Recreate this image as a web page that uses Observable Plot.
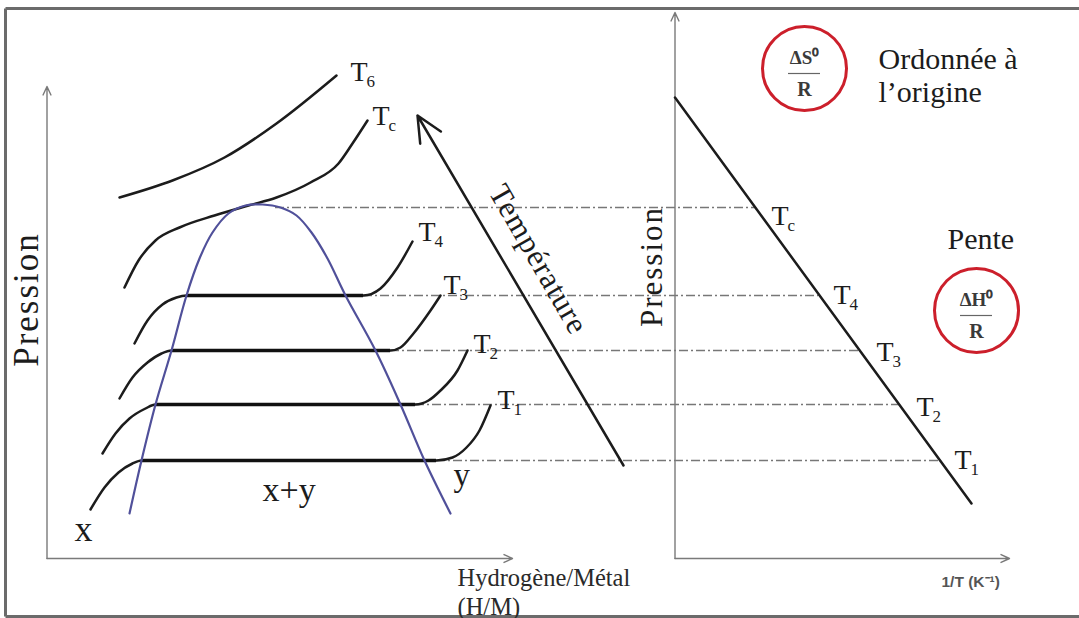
<!DOCTYPE html>
<html><head><meta charset="utf-8">
<script src="https://cdn.jsdelivr.net/npm/d3@7"></script>
<script src="https://cdn.jsdelivr.net/npm/@observablehq/plot@0.6"></script>
<style>html,body{margin:0;padding:0;background:#fff;} #chart{width:1079px;height:618px;overflow:hidden}</style>
</head><body><div id="chart"></div>
<script>
// ---- Schematic values (drawing units, y grows downward) ----
// PCT isotherms (left panel): [H/M position, pressure position]
const isoT1 = [[90,509],[104,487],[118,472],[132,463],[141,460],[436,460],[452,457],[466,447],[479,430],[490,405]];
const isoT2 = [[102,453],[115,433],[129,418],[145,408],[155,404],[415,404],[428,400],[440,390],[457,370],[467,350]];
const isoT3 = [[119,398],[132,377],[147,362],[161,353],[171,350],[390,350],[400,347],[413,333],[430,310],[440,295]];
const isoT4 = [[134,343],[147,320],[162,304],[176,297],[186,295],[363,295],[380,288],[397,267],[412,241]];
const isoTc = [[124,287],[138,260],[155,240],[179,227],[214,215],[248,205],[276,197],[310,182],[338,163],[352,143],[367,120]];
const isoT6 = [[119,197],[172,180],[224,157],[276,123],[336,75]];
// two-phase dome (x + y coexistence)
const dome = [[129,513],[141,460],[155,404],[171,350],[186,295],[199,258],[212,232],[228,213],[245,205],[262,204],[280,207],[296,215],[311,232],[327,258],[345,295],[375,350],[400,404],[424,460],[450,513]];
// plateaus: pressure level, start (dome) and end of plateau
const plateauY  = [460, 404, 350, 295];
const plateauX1 = [141, 155, 171, 186];
const plateauX2 = [436, 415, 390, 363];
// dash-dot projections to the van't Hoff line
const dashY  = [207, 295, 350, 404, 460];
const dashX1 = [275, 363, 390, 415, 436];
const dashX2 = [755, 818, 860, 900, 939];
// van't Hoff line (right panel)
const vantHoff = [[674.5,97],[971,503]];
// axes and frame
const axisArrows = [[46.5,558,46.5,86],[46.5,558,512,558],[674.5,558,674.5,12],[674.5,558,1009,558]];
const tempArrow = [[623,465,417,115]];
const frameLines = [[5,8,1079,8],[5,8,5,616],[5,616,1079,616]];
// temperature labels
const tSubs = ["6","c","4","3","2","1"];
const tLeftX = [350,372,418,443,473,497];
const tLeftY = [80,124,240,293,352,408];
const tRightSubs = ["c","4","3","2","1"];
const tRightX = [771,833,876,916,954];
const tRightY = [224,303,360,415,468];
// red circles with thermodynamic ratios
const circleX = [804, 976];
const circleY = [68, 310];
const circleNum = ["ΔS⁰", "ΔH⁰"];
const circleDen = ["R", "R"];

// ---- build tables ----
const curves = [];
[["T1",isoT1],["T2",isoT2],["T3",isoT3],["T4",isoT4],["Tc",isoTc],["T6",isoT6]].forEach(([k,p]) => p.forEach(([x,y]) => curves.push({k,x,y})));
const domeData = dome.map(([x,y]) => ({x,y}));
const plateaus = plateauY.map((y,i) => ({y, x1: plateauX1[i], x2: plateauX2[i]}));
const dashes = dashY.map((y,i) => ({y, x1: dashX1[i], x2: dashX2[i]}));
const vh = vantHoff.map(([x,y]) => ({x,y}));
const seg = a => a.map(([x1,y1,x2,y2]) => ({x1,y1,x2,y2}));
const tL = tSubs.map((s,i) => ({s, x: tLeftX[i], y: tLeftY[i]}));
const tR = tRightSubs.map((s,i) => ({s, x: tRightX[i], y: tRightY[i]}));
const tAll = tL.concat(tR);
const circles = circleX.map((x,i) => ({x, y: circleY[i], num: circleNum[i], den: circleDen[i]}));

const SERIF = "Liberation Serif, Times New Roman, serif";
const INK = "#1c1c1c";

const chart = Plot.plot({
  width: 1079, height: 618, margin: 0,
  x: {domain: [0, 1079], range: [0, 1079], axis: null},
  y: {domain: [0, 618], range: [0, 618], axis: null},
  style: {background: "#fff", overflow: "visible"},
  marks: [
    Plot.link(seg(frameLines), {x1:"x1", y1:"y1", x2:"x2", y2:"y2", stroke:"#6b6b6b", strokeWidth:3}),
    Plot.ruleY(dashes, {y:"y", x1:"x1", x2:"x2", stroke:"#777", strokeWidth:1.5, strokeDasharray:"9,3,2,3"}),
    Plot.arrow(seg(axisArrows), {x1:"x1", y1:"y1", x2:"x2", y2:"y2", stroke:"#7a7a7a", strokeWidth:1.4, headLength:10, headAngle:50}),
    Plot.line(curves, {x:"x", y:"y", z:"k", curve:"monotone-x", stroke:INK, strokeWidth:2.5}),
    Plot.ruleY(plateaus, {y:"y", x1:"x1", x2:"x2", stroke:"#111", strokeWidth:3.6}),
    Plot.line(domeData, {x:"x", y:"y", curve:"catmull-rom", stroke:"#50509a", strokeWidth:2.2}),
    Plot.line(vh, {x:"x", y:"y", stroke:INK, strokeWidth:2.5}),
    Plot.arrow(seg(tempArrow), {x1:"x1", y1:"y1", x2:"x2", y2:"y2", stroke:INK, strokeWidth:2.5, headLength:17, headAngle:50}),
    Plot.dot(circles, {x:"x", y:"y", r:42, stroke:"#cc1f2b", strokeWidth:3, fill:"none"}),
    Plot.text(circles, {x:"x", y: d => d.y - 5, text:"num", fontFamily:SERIF, fontSize:19, fontWeight:"bold", fill:"#3a3a3a", textAnchor:"middle", lineAnchor:"bottom"}),
    Plot.ruleY(circles, {y: d => d.y + 5, x1: d => d.x - 16, x2: d => d.x + 16, stroke:"#666", strokeWidth:1.2}),
    Plot.text(circles, {x:"x", y: d => d.y + 27, text:"den", fontFamily:SERIF, fontSize:20, fontWeight:"bold", fill:"#3a3a3a", textAnchor:"middle", lineAnchor:"bottom"}),
    // T labels
    Plot.text(tAll, {x:"x", y:"y", text: () => "T", fontFamily:SERIF, fontSize:28, fill:INK, textAnchor:"start", lineAnchor:"bottom"}),
    Plot.text(tAll, {x: d => d.x + 16, y: d => d.y + 6, text:"s", fontFamily:SERIF, fontSize:17, fill:INK, textAnchor:"start", lineAnchor:"bottom"}),
    // axis titles and annotations
    Plot.text(["Pression"], {x: () => 26, y: () => 299, text: d => d, rotate:-90, fontFamily:SERIF, fontSize:35, fill:INK, textAnchor:"middle", lineAnchor:"middle"}),
    Plot.text(["Pression"], {x: () => 651.5, y: () => 266, text: d => d, rotate:-90, fontFamily:SERIF, fontSize:31, fill:INK, textAnchor:"middle", lineAnchor:"middle"}),
    Plot.text(["Température"], {x: () => 538, y: () => 259, text: d => d, rotate:60, fontFamily:SERIF, fontSize:31, fill:INK, textAnchor:"middle", lineAnchor:"middle"}),
    Plot.text(["Hydrogène/Métal"], {x: () => 457, y: () => 585, text: d => d, fontFamily:SERIF, fontSize:24.5, fill:"#2a2a2a", textAnchor:"start", lineAnchor:"bottom"}),
    Plot.text(["(H/M)"], {x: () => 457, y: () => 614, text: d => d, fontFamily:SERIF, fontSize:24.5, fill:"#2a2a2a", textAnchor:"start", lineAnchor:"bottom"}),
    Plot.text(["1/T (K⁻¹)"], {x: () => 941, y: () => 586, text: d => d, fontFamily:"Liberation Sans, Arial, sans-serif", fontSize:15.5, fontWeight:"bold", fill:"#555", textAnchor:"start", lineAnchor:"bottom"}),
    Plot.text(["x"], {x: () => 74, y: () => 540, text: d => d, fontFamily:SERIF, fontSize:36, fill:INK, textAnchor:"start", lineAnchor:"bottom"}),
    Plot.text(["x+y"], {x: () => 262, y: () => 500, text: d => d, fontFamily:SERIF, fontSize:34, fill:INK, textAnchor:"start", lineAnchor:"bottom"}),
    Plot.text(["y"], {x: () => 453, y: () => 485, text: d => d, fontFamily:SERIF, fontSize:33, fill:INK, textAnchor:"start", lineAnchor:"bottom"}),
    Plot.text(["Ordonnée à"], {x: () => 878, y: () => 68, text: d => d, fontFamily:SERIF, fontSize:30, fill:INK, textAnchor:"start", lineAnchor:"bottom"}),
    Plot.text(["l’origine"], {x: () => 878, y: () => 101, text: d => d, fontFamily:SERIF, fontSize:30, fill:INK, textAnchor:"start", lineAnchor:"bottom"}),
    Plot.text(["Pente"], {x: () => 947, y: () => 248, text: d => d, fontFamily:SERIF, fontSize:30, fill:INK, textAnchor:"start", lineAnchor:"bottom"})
  ]
});
document.getElementById("chart").appendChild(chart);
// widen the rotated titles a little, as in the reference lettering
d3.select(chart).selectAll("text").filter(function(){ return this.textContent === "Pression"; }).attr("letter-spacing", 2);
d3.select(chart).selectAll("text").filter(function(){ return this.textContent === "Température"; }).attr("letter-spacing", 1);
</script>
</body></html>
